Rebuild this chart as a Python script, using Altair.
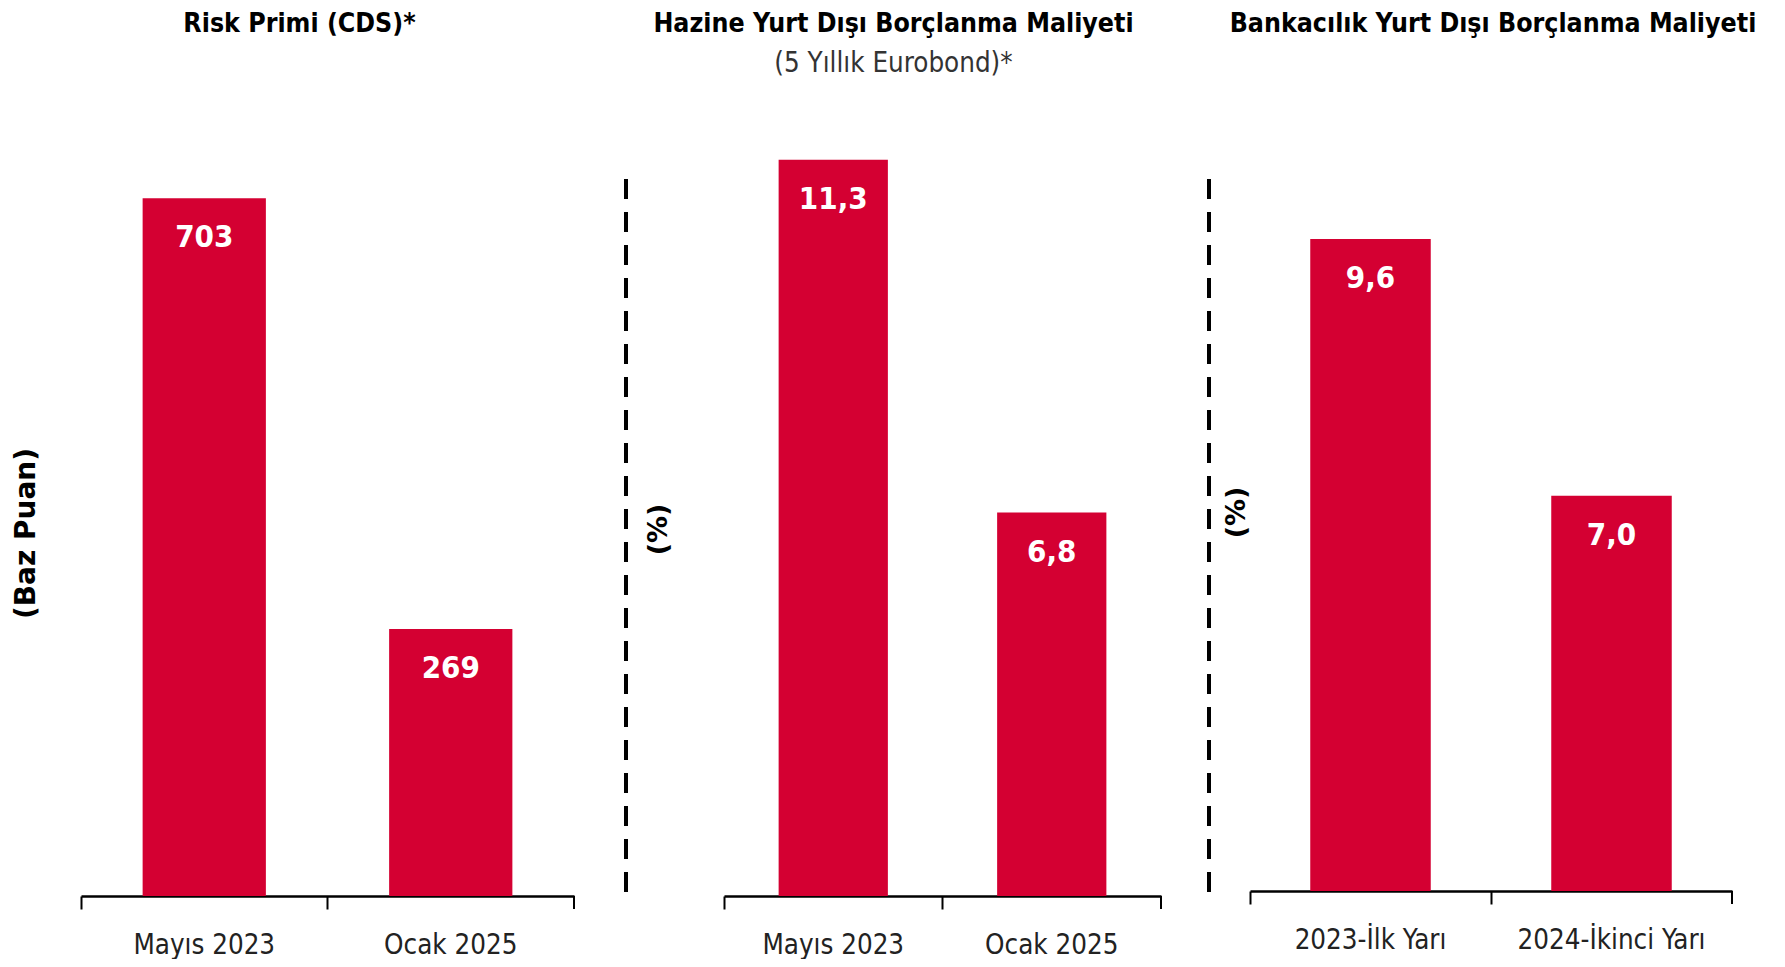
import altair as alt
import pandas as pd

# ---- data ----
cats1 = ["Mayıs 2023", "Ocak 2025"]
vals1 = [703, 269]
cats2 = ["Mayıs 2023", "Ocak 2025"]
vals2 = [11.3, 6.8]
cats3 = ["2023-İlk Yarı", "2024-İkinci Yarı"]
vals3 = [9.6, 7.0]

titles = ["Risk Primi (CDS)*",
          "Hazine Yurt Dışı Borçlanma Maliyeti",
          "Bankacılık Yurt Dışı Borçlanma Maliyeti"]
subtitle2 = "(5 Yıllık Eurobond)*"
ytitles = ["(Baz Puan)", "(%)", "(%)"]

RED = "#D40032"
NARROW = "DejaVu Sans Condensed"
WIDE = "DejaVu Sans"


def panel(cats, vals, W, H, ymin, ymax, decimals, ytitle, ytfs, titleX, titleY,
          title, title_dx, title_offset, subtitle=None, sep_x=None):
    df = pd.DataFrame({"cat": cats, "val": vals})
    base = alt.Chart(df)
    x = alt.X("cat:N", sort=cats,
              scale=alt.Scale(paddingInner=0, paddingOuter=0),
              axis=alt.Axis(title=None, labelAngle=0, labelFont=NARROW,
                            labelFontSize=27.5, labelColor="#222",
                            labelPadding=36, labelBaseline="middle",
                            labelLimit=600,
                            tickSize=13, tickWidth=2, tickColor="black",
                            domainColor="black", domainWidth=2.5,
                            bandPosition=0, grid=False))
    y = alt.Y("val:Q",
              scale=alt.Scale(domain=[ymin, ymax], zero=False, nice=False),
              axis=alt.Axis(title=ytitle, labels=False, ticks=False,
                            domain=False, grid=False, titleFont=WIDE,
                            titleFontSize=ytfs, titleFontWeight="bold",
                            titleColor="black", titleAngle=270,
                            titleX=titleX, titleY=titleY, titleAlign="center",
                            titleBaseline="middle"))
    bars = base.mark_bar(color=RED, width={"band": 0.5}).encode(
        x=x, y=y, y2=alt.datum(ymin))
    fmt = ".0f" if decimals == 0 else ".1f"
    labels = base.transform_calculate(
        lbl=f"replace(format(datum.val, '{fmt}'), '.', ',')"
    ).mark_text(color="white", font=NARROW, fontSize=31, fontWeight="bold",
                baseline="middle", dy=40).encode(x=x, y=y, text="lbl:N")
    one = alt.Chart(pd.DataFrame({"k": [0]}))
    end_tick = one.mark_rule(color="black", strokeWidth=2).encode(
        x=alt.value(W), y=alt.value(H), y2=alt.value(H + 13))
    layers = [bars, labels, end_tick]
    if sep_x is not None:
        sep = one.mark_rule(color="black", strokeWidth=4,
                            strokeDash=[20, 13]).encode(
            x=alt.value(sep_x), y=alt.value(29), y2=alt.value(749))
        layers.append(sep)
    tp = dict(text=title, font=NARROW, fontSize=26.5, fontWeight="bold",
              color="black", anchor="middle", frame="group", dx=title_dx,
              offset=title_offset)
    if subtitle:
        tp.update(subtitle=subtitle, subtitleFont=NARROW, subtitleFontSize=27.5,
                  subtitleColor="#333", subtitlePadding=12)
    return alt.layer(*layers).properties(
        width=W, height=H, title=alt.TitleParams(**tp))


p1 = panel(cats1, vals1, 493, 746, 0, 751.6, 0, ytitles[0], 28, -55, 383,
           titles[0], -28, 113)
p2 = panel(cats2, vals2, 437, 746, 1.91, 11.425, 1, ytitles[1], 27, -66, 379,
           titles[1], -49, 73, subtitle=subtitle2, sep_x=-98)
p3 = panel(cats3, vals3, 482, 741, 3.0, 10.5, 1, ytitles[2], 27, -14, 362,
           titles[2], 2, 113, sep_x=-41)

chart = alt.hconcat(alt.hconcat(p1, p2, spacing=49), p3, spacing=45).properties(
    padding={"left": 4, "top": 2, "right": 0, "bottom": 0}
).configure_view(stroke=None)

chart.save("out.html", embed_options={"renderer": "svg", "actions": False})
